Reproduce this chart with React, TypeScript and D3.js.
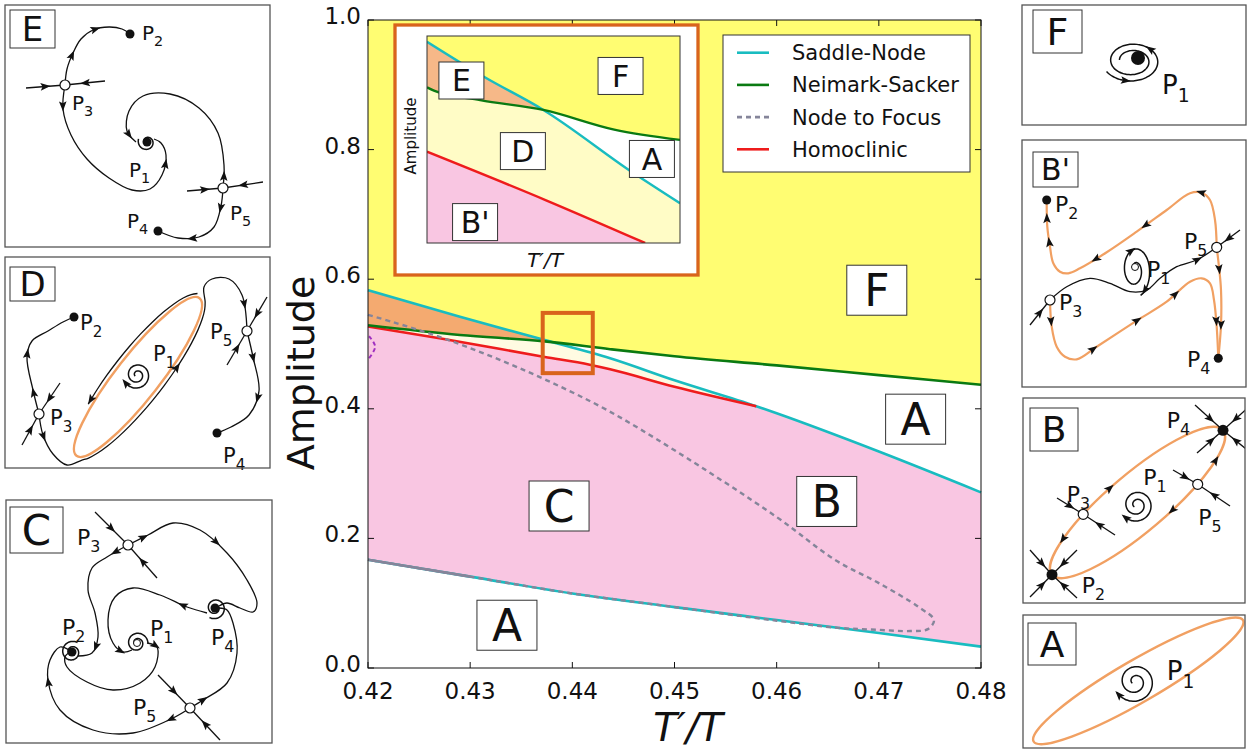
import { useEffect, useRef } from "react";
import * as d3 from "d3";

type Pt = [number, number];

// ---------- main diagram (T'/T vs Amplitude) ----------
const xTicks = [0.42, 0.43, 0.44, 0.45, 0.46, 0.47, 0.48];
const yTicks = [0.0, 0.2, 0.4, 0.6, 0.8, 1.0];

const saddleUpper: Pt[] = [
  [0.42, 0.583], [0.429, 0.542], [0.4373, 0.506], [0.4437, 0.478], [0.45, 0.444],
  [0.458, 0.404], [0.46, 0.393], [0.47, 0.334], [0.48, 0.271],
];
const saddleLower: Pt[] = [
  [0.42, 0.167], [0.43, 0.141], [0.44, 0.115], [0.45, 0.094], [0.46, 0.074], [0.47, 0.054], [0.48, 0.033],
];
const neimarkSacker: Pt[] = [
  [0.42, 0.529], [0.429, 0.514], [0.4373, 0.504], [0.4437, 0.492], [0.45, 0.481],
  [0.46, 0.467], [0.47, 0.452], [0.48, 0.437],
];
const homoclinic: Pt[] = [
  [0.42, 0.527], [0.427, 0.509], [0.4373, 0.48], [0.4417, 0.468], [0.4437, 0.461], [0.45, 0.434], [0.458, 0.404],
];
const nodeToFocus: Pt[] = [
  [0.42, 0.545], [0.4224, 0.534], [0.427, 0.511], [0.4322, 0.48], [0.4375, 0.444], [0.4434, 0.398],
  [0.45, 0.336], [0.46, 0.233], [0.4657, 0.167], [0.47, 0.131], [0.4739, 0.094], [0.4754, 0.074],
  [0.4748, 0.06], [0.4731, 0.057], [0.4698, 0.059], [0.466, 0.062], [0.46, 0.073], [0.45, 0.094],
  [0.44, 0.115], [0.43, 0.141], [0.42, 0.167],
];
const purpleArc: Pt[] = [[0.4201, 0.512], [0.4207, 0.496], [0.4201, 0.478]];
const zoomBox = { x0: 0.4371, x1: 0.442, y0: 0.455, y1: 0.548 };

const regionLabels = [
  { text: "F", x: 0.4698, y: 0.583 },
  { text: "A", x: 0.4736, y: 0.384 },
  { text: "C", x: 0.4387, y: 0.25 },
  { text: "B", x: 0.4649, y: 0.257 },
  { text: "A", x: 0.4336, y: 0.066 },
];

const legendNames = ["Saddle-Node", "Neimark-Sacker", "Node to Focus", "Homoclinic"];

// ---------- inset (schematic zoom, unit coordinates) ----------
const insetSaddle: Pt[] = [[0, 0.972], [0.225, 0.803], [0.46, 0.643], [0.816, 0.338], [1, 0.192]];
const insetNeimark: Pt[] = [[0, 0.752], [0.03, 0.735], [0.21, 0.69], [0.46, 0.643], [0.74, 0.548], [1, 0.498]];
const insetHomoclinic: Pt[] = [[0, 0.441], [0.473, 0.205], [0.862, 0]];
const insetLabels = [
  { text: "E", x: 0.136, y: 0.785 },
  { text: "F", x: 0.765, y: 0.807 },
  { text: "D", x: 0.379, y: 0.444 },
  { text: "A", x: 0.889, y: 0.406 },
  { text: "B'", x: 0.19, y: 0.101 },
];

const CYAN = "#19bcc0";
const GREEN = "#0a7a12";
const RED = "#ee1c1c";
const GRAY = "#85859a";
const YELLOW = "#fffd72";
const ORANGE = "#f4aa70";
const PALE = "#fffbe2";
const PINK = "#f9c6e2";
const BOX = "#d9641c";
const CYCLE = "#f1a062";
const INK = "#111";
const FONT = "DejaVu Sans, sans-serif";

// ---------- phase portrait sketches (panel-local px) ----------
interface Traj { pts: Pt[]; arrows?: number[]; orange?: boolean }
interface Spiral { cx: number; cy: number; rIn: number; rOut: number; turns: number; endDeg: number; sx?: number; sy?: number; inward?: boolean; arrows?: number[] }
interface Cycle { cx: number; cy: number; a: number; b: number; rot: number }
interface Panel {
  x: number; y: number; w: number; h: number;
  tag: string; tagBox: [number, number, number, number]; tagSize: number;
  cycles: Cycle[]; cycleArrows?: { t: number; dir: number }[];
  trajs: Traj[]; spirals: Spiral[];
  dots: Pt[]; open: Pt[]; small?: Pt[]; dotR?: number;
  labels: { sub: string; x: number; y: number }[]; labelSize: number;
}

function ellPt(c: Cycle, tDeg: number, da = 0, db = 0): Pt {
  const r = (c.rot * Math.PI) / 180, t = (tDeg * Math.PI) / 180;
  const ux = Math.cos(r), uy = Math.sin(r);
  const ca = (c.a + da) * Math.cos(t), sb = (c.b + db) * Math.sin(t);
  return [c.cx + ca * ux - sb * uy, c.cy + ca * uy + sb * ux];
}
function ellArc(c: Cycle, from: number, to: number, step: number, d: number): Pt[] {
  const out: Pt[] = [];
  for (let t = from; step > 0 ? t <= to : t >= to; t += step) out.push(ellPt(c, t, d, d));
  return out;
}

const dCycle: Cycle = { cx: 133, cy: 120, a: 100, b: 22, rot: -52 };
const bCycle: Cycle = { cx: 114.5, cy: 104.5, a: 112, b: 29, rot: -40.2 };
const aCycle: Cycle = { cx: 115.3, cy: 65.8, a: 121, b: 21, rot: -30.1 };

const panels: Panel[] = [
  {
    x: 5, y: 5, w: 265, h: 242, tag: "E", tagBox: [5, 5, 45, 38], tagSize: 34,
    cycles: [],
    trajs: [
      { pts: [[21, 83], [60, 80]], arrows: [0.5] },
      { pts: [[100, 76], [60, 80]], arrows: [0.5] },
      { pts: [[60, 80], [62, 64], [68, 48], [76, 34], [88, 25], [104, 22], [117, 24], [125, 29]], arrows: [0.3, 0.65] },
      { pts: [[60, 80], [58, 104], [66, 130], [82, 154], [104, 173], [127, 185], [145, 184], [157, 170], [161, 150], [156, 138], [149, 134]], arrows: [0.1, 0.86] },
      { pts: [[218, 183], [219, 160], [213, 128], [194, 103], [165, 89], [138, 91], [124, 106], [122, 126], [131, 137]], arrows: [0.06, 0.95] },
      { pts: [[182, 186], [218, 183]], arrows: [0.5] },
      { pts: [[258, 177], [218, 183]], arrows: [0.5] },
      { pts: [[218, 183], [216, 201], [209, 222], [194, 232], [173, 233], [153, 226]], arrows: [0.2, 0.65] },
    ],
    spirals: [{ cx: 142, cy: 137, rIn: 3, rOut: 9, turns: 1.1, endDeg: 200 }],
    dots: [[125, 29], [142, 137], [153, 226]], open: [[60, 80], [218, 183]],
    labels: [{ sub: "2", x: 137, y: 35 }, { sub: "3", x: 67, y: 105 }, { sub: "1", x: 124, y: 172 }, { sub: "4", x: 122, y: 223 }, { sub: "5", x: 225, y: 215 }],
    labelSize: 20,
  },
  {
    x: 5, y: 257, w: 265, h: 211, tag: "D", tagBox: [5, 10, 45, 34], tagSize: 34,
    cycles: [dCycle],
    trajs: [
      { pts: [[34, 157], [28, 133], [22, 100], [27, 84], [43, 74], [58, 65], [69, 60]], arrows: [0.18, 0.5] },
      { pts: [[34, 157], [38, 178], [48, 197], [62, 208], ...ellArc(dCycle, 165, 15, -10, 4), [199, 30], [207, 22], [224, 22], [237, 38], [242, 74]], arrows: [0.06, 0.55, 0.93] },
      { pts: ellArc(dCycle, 350, 235, -10, 4), arrows: [0.97] },
      { pts: [[242, 74], [248, 100], [254, 134], [244, 158], [226, 170], [212, 176]], arrows: [0.22, 0.55] },
      { pts: [[17, 188], [34, 157]], arrows: [0.5] },
      { pts: [[55, 126], [34, 157]], arrows: [0.5] },
      { pts: [[222, 108], [242, 74]], arrows: [0.5] },
      { pts: [[262, 40], [242, 74]], arrows: [0.5] },
    ],
    spirals: [{ cx: 132, cy: 118, rIn: 2, rOut: 14, turns: 2, endDeg: 150, arrows: [0.99] }],
    dots: [[69, 60], [212, 176]], open: [[34, 157], [242, 74]],
    labels: [{ sub: "2", x: 75, y: 73 }, { sub: "3", x: 45, y: 168 }, { sub: "5", x: 205, y: 82 }, { sub: "1", x: 148, y: 104 }, { sub: "4", x: 218, y: 206 }],
    labelSize: 21,
  },
  {
    x: 6, y: 500, w: 266, h: 243, tag: "C", tagBox: [4, 7, 53, 46], tagSize: 42,
    cycles: [],
    trajs: [
      { pts: [[122, 45], [142, 35], [167, 23], [194, 30], [221, 53], [241, 80], [251, 103], [247, 112], [234, 108], [221, 103], [213, 106]], arrows: [0.08, 0.45] },
      { pts: [[201, 113], [181, 107], [154, 95], [127, 88], [109, 97], [102, 120], [107, 143], [117, 152], [126, 150]], arrows: [0.15, 0.93] },
      { pts: [[122, 45], [101, 57], [86, 68], [82, 90], [89, 113], [92, 137], [86, 153], [72, 156]], arrows: [0.1, 0.85] },
      { pts: [[141, 143], [151, 147], [149, 167], [134, 183], [107, 190], [81, 182], [61, 167], [59, 157], [64, 152]], arrows: [0.06] },
      { pts: [[184, 208], [167, 218], [127, 233], [87, 230], [54, 210], [42, 180], [44, 160], [54, 147], [63, 150]], arrows: [0.1, 0.78] },
      { pts: [[184, 208], [197, 200], [221, 183], [231, 153], [227, 123], [221, 110], [213, 108]], arrows: [0.12] },
      { pts: [[89, 12], [122, 45]], arrows: [0.5] },
      { pts: [[151, 78], [122, 45]], arrows: [0.5] },
      { pts: [[152, 175], [184, 208]], arrows: [0.5] },
      { pts: [[214, 240], [184, 208]], arrows: [0.5] },
    ],
    spirals: [
      { cx: 131, cy: 143, rIn: 2, rOut: 11, turns: 1.7, endDeg: 0, inward: true },
      { cx: 66, cy: 152, rIn: 2, rOut: 11, turns: 1.7, endDeg: 300, inward: true },
      { cx: 209, cy: 108, rIn: 2, rOut: 11, turns: 1.7, endDeg: 120, inward: true },
    ],
    dots: [[66, 152], [209, 108]], open: [[122, 45], [184, 208]], small: [[131, 143]],
    labels: [{ sub: "3", x: 71, y: 45 }, { sub: "2", x: 56, y: 135 }, { sub: "1", x: 144, y: 136 }, { sub: "4", x: 205, y: 145 }, { sub: "5", x: 127, y: 215 }],
    labelSize: 22,
  },
  {
    x: 1022, y: 5, w: 224, h: 120, tag: "F", tagBox: [11, 5, 49, 43], tagSize: 38,
    cycles: [], trajs: [],
    spirals: [{ cx: 110, cy: 56, rIn: 9, rOut: 21, turns: 1.9, endDeg: 150, sx: 1.4, sy: 1, inward: true, arrows: [0.1, 0.36] }],
    dots: [[116, 53]], open: [], dotR: 7,
    labels: [{ sub: "1", x: 140, y: 89 }], labelSize: 26,
  },
  {
    x: 1022, y: 140, w: 224, h: 247, tag: "B'", tagBox: [11, 12, 45, 35], tagSize: 30,
    cycles: [],
    trajs: [
      { pts: [[194.7, 107.3], [193, 80], [188, 60], [179.7, 52.7], [168, 53.3], [144.7, 70], [114.7, 91.7], [84.7, 112.3], [58, 128.3], [46.3, 133.3], [38, 131.7], [31.3, 123.3], [28, 106.7], [25.3, 86.7], [24.7, 60]], arrows: [0.2, 0.42, 0.62, 0.86, 0.94], orange: true },
      { pts: [[28, 160], [29.7, 186.7], [34.7, 206.7], [43, 216.7], [54.7, 219.3], [74.7, 206.7], [114.7, 180.7], [144.7, 161.7], [168, 141.7], [179.7, 138.3], [188, 143.3], [192, 160], [194.7, 186.7], [196.3, 218.3]], arrows: [0.07, 0.3, 0.47, 0.62, 0.88], orange: true },
      { pts: [[194.7, 107.3], [197, 127], [199, 150], [199, 185], [196.3, 218.3]], arrows: [0.2, 0.7], orange: true },
      { pts: [[28, 160], [44.7, 146.7], [68, 138.3], [88, 143.3], [108, 151.7], [124.7, 150], [138, 138.3], [154.7, 126.7], [174.7, 120], [194.7, 107.3]], arrows: [0.88] },
      { pts: [[8, 185], [28, 160]], arrows: [0.5] },
      { pts: [[218, 90], [194.7, 107.3]], arrows: [0.5] },
    ],
    spirals: [{ cx: 113, cy: 130, rIn: 5, rOut: 27, turns: 1.6, endDeg: 70, sx: 0.6, sy: 1, arrows: [0.55, 0.95] }],
    dots: [[24.7, 60], [196.3, 218.3]], open: [[28, 160], [194.7, 107.3]], small: [[113, 127]],
    labels: [{ sub: "2", x: 33, y: 72 }, { sub: "3", x: 37, y: 170 }, { sub: "5", x: 162, y: 109 }, { sub: "1", x: 125, y: 137 }, { sub: "4", x: 165, y: 227 }],
    labelSize: 22,
  },
  {
    x: 1023, y: 398, w: 222, h: 205, tag: "B", tagBox: [7, 10, 48, 43], tagSize: 36,
    cycles: [bCycle],
    cycleArrows: [{ t: 224, dir: -1 }, { t: 264, dir: 1 }, { t: 39, dir: -1 }, { t: 79, dir: 1 }],
    trajs: [
      { pts: [[7, 152], [29, 176.7]], arrows: [0.55] },
      { pts: [[54, 152], [29, 176.7]], arrows: [0.55] },
      { pts: [[7, 199], [29, 176.7]], arrows: [0.55] },
      { pts: [[54, 200], [29, 176.7]], arrows: [0.55] },
      { pts: [[172, 7], [200, 32.3]], arrows: [0.55] },
      { pts: [[228, 7], [200, 32.3]], arrows: [0.55] },
      { pts: [[174, 55], [200, 32.3]], arrows: [0.55] },
      { pts: [[228, 55], [200, 32.3]], arrows: [0.55] },
      { pts: [[34, 100], [60.2, 116.3]], arrows: [0.5] },
      { pts: [[92, 137], [60.2, 116.3]], arrows: [0.5] },
      { pts: [[150, 72], [174.7, 86.3]], arrows: [0.5] },
      { pts: [[207, 108], [174.7, 86.3]], arrows: [0.5] },
    ],
    spirals: [{ cx: 113.7, cy: 107, rIn: 3, rOut: 17, turns: 2, endDeg: 140, arrows: [0.98] }],
    dots: [[29, 176.7], [200, 32.3]], open: [[60.2, 116.3], [174.7, 86.3]], dotR: 5.5,
    labels: [{ sub: "2", x: 58.7, y: 194.7 }, { sub: "4", x: 143.7, y: 30.3 }, { sub: "3", x: 43.7, y: 103.7 }, { sub: "5", x: 175.3, y: 127 }, { sub: "1", x: 120.3, y: 87 }],
    labelSize: 22,
  },
  {
    x: 1023, y: 615, w: 222, h: 133, tag: "A", tagBox: [5, 8, 48, 42], tagSize: 36,
    cycles: [aCycle], trajs: [],
    spirals: [{ cx: 112, cy: 66.7, rIn: 3, rOut: 21, turns: 2, endDeg: 150, arrows: [0.98] }],
    dots: [], open: [],
    labels: [{ sub: "1", x: 143.7, y: 65 }], labelSize: 26,
  },
];

function spiralPts(s: Spiral): Pt[] {
  const pts: Pt[] = [];
  const n = 120, sx = s.sx ?? 1, sy = s.sy ?? 1;
  for (let i = 0; i <= n; i++) {
    const f = i / n;
    const th = (s.endDeg * Math.PI) / 180 - (1 - f) * s.turns * 2 * Math.PI;
    const r = s.rIn + (s.rOut - s.rIn) * f;
    pts.push([s.cx + r * Math.cos(th) * sx, s.cy + r * Math.sin(th) * sy]);
  }
  return s.inward ? pts.reverse() : pts;
}

function arrowHead(g: any, x: number, y: number, ang: number, color = INK) {
  g.append("path")
    .attr("d", "M5,0L-5,-3.8L-3,0L-5,3.8Z")
    .attr("transform", `translate(${x},${y}) rotate(${ang})`)
    .attr("fill", color);
}

function addArrows(g: any, path: any, ts: number[]) {
  const node = path.node() as SVGPathElement;
  const L = node.getTotalLength();
  ts.forEach((t) => {
    const l = Math.max(1, Math.min(L - 1, t * L));
    const a = node.getPointAtLength(l - 1), b = node.getPointAtLength(l + 1), p = node.getPointAtLength(l);
    arrowHead(g, p.x, p.y, (Math.atan2(b.y - a.y, b.x - a.x) * 180) / Math.PI);
  });
}

function letterBox(g: any, cx: number, cy: number, w: number, h: number, text: string, size: number) {
  g.append("rect").attr("x", cx - w / 2).attr("y", cy - h / 2).attr("width", w).attr("height", h)
    .attr("fill", "#fff").attr("stroke", "#333").attr("stroke-width", 1);
  g.append("text").attr("x", cx).attr("y", cy + size * 0.36).attr("text-anchor", "middle")
    .attr("font-size", size).attr("fill", INK).text(text);
}

function pLabel(g: any, x: number, y: number, sub: string, size: number) {
  const t = g.append("text").attr("x", x).attr("y", y).attr("font-size", size).attr("fill", INK);
  t.append("tspan").text("P");
  t.append("tspan").attr("font-size", size * 0.72).attr("dy", size * 0.32).text(sub);
}

function drawMain(svg: any, defs: any) {
  const x = d3.scaleLinear().domain([0.42, 0.48]).range([368, 981]);
  const y = d3.scaleLinear().domain([0, 1]).range([668, 20]);
  const curve = d3.curveMonotoneX;
  const above = d3.area<Pt>().curve(curve).x((d) => x(d[0])).y0((d) => y(d[1])).y1(y(1));
  const below = d3.area<Pt>().curve(curve).x((d) => x(d[0])).y0(y(0)).y1((d) => y(d[1]));
  const line = d3.line<Pt>().curve(curve).x((d) => x(d[0])).y((d) => y(d[1]));

  const clip = (id: string, d: string | null) => defs.append("clipPath").attr("id", id).append("path").attr("d", d);
  clip("m-above-ns", above(neimarkSacker));
  clip("m-below-ns", below(neimarkSacker));
  clip("m-below-sn", below(saddleUpper));
  clip("m-above-low", above(saddleLower));

  const g = svg.append("g");
  // regions
  g.append("g").attr("clip-path", "url(#m-above-ns)").append("path").attr("d", above(saddleUpper)).attr("fill", YELLOW);
  g.append("g").attr("clip-path", "url(#m-above-ns)").append("path").attr("d", below(saddleUpper)).attr("fill", ORANGE);
  g.append("g").attr("clip-path", "url(#m-below-ns)").append("g").attr("clip-path", "url(#m-below-sn)")
    .append("path").attr("d", above(homoclinic)).attr("fill", PALE);
  const lastX = homoclinic[homoclinic.length - 1][0];
  const pinkTop = [...homoclinic, ...saddleUpper.filter((d) => d[0] > lastX)];
  g.append("g").attr("clip-path", "url(#m-above-low)").append("path").attr("d", below(pinkTop)).attr("fill", PINK);

  // curves
  const stroke = (pts: Pt[], color: string, w: number) =>
    g.append("path").attr("d", line(pts)).attr("fill", "none").attr("stroke", color).attr("stroke-width", w);
  stroke(saddleLower, CYAN, 2.6);
  stroke(saddleLower.filter((d) => d[0] <= 0.43), GRAY, 2.6);
  stroke(saddleUpper, CYAN, 2.6);
  stroke(homoclinic, RED, 2.6);
  stroke(neimarkSacker, GREEN, 2.6);
  g.append("path")
    .attr("d", d3.line<Pt>().curve(d3.curveCatmullRom.alpha(0.5)).x((d) => x(d[0])).y((d) => y(d[1]))(nodeToFocus))
    .attr("fill", "none").attr("stroke", GRAY).attr("stroke-width", 2.4).attr("stroke-dasharray", "5,4");
  g.append("path")
    .attr("d", d3.line<Pt>().curve(d3.curveCatmullRom).x((d) => x(d[0])).y((d) => y(d[1]))(purpleArc))
    .attr("fill", "none").attr("stroke", "#a030c0").attr("stroke-width", 2).attr("stroke-dasharray", "4,3");

  // zoom window
  g.append("rect").attr("x", x(zoomBox.x0)).attr("y", y(zoomBox.y1))
    .attr("width", x(zoomBox.x1) - x(zoomBox.x0)).attr("height", y(zoomBox.y0) - y(zoomBox.y1))
    .attr("fill", "none").attr("stroke", BOX).attr("stroke-width", 4);

  // frame + ticks
  g.append("rect").attr("x", 368).attr("y", 20).attr("width", 613).attr("height", 648)
    .attr("fill", "none").attr("stroke", INK).attr("stroke-width", 1);
  xTicks.forEach((v) => {
    g.append("line").attr("x1", x(v)).attr("x2", x(v)).attr("y1", y(0)).attr("y2", y(0) - 6).attr("stroke", INK);
    g.append("line").attr("x1", x(v)).attr("x2", x(v)).attr("y1", y(1)).attr("y2", y(1) + 6).attr("stroke", INK);
    g.append("text").attr("x", x(v)).attr("y", 699).attr("text-anchor", "middle").attr("font-size", 23)
      .attr("fill", INK).text(d3.format(".2f")(v));
  });
  yTicks.forEach((v) => {
    g.append("line").attr("x1", x(0.42)).attr("x2", x(0.42) + 6).attr("y1", y(v)).attr("y2", y(v)).attr("stroke", INK);
    g.append("line").attr("x1", x(0.48)).attr("x2", x(0.48) - 6).attr("y1", y(v)).attr("y2", y(v)).attr("stroke", INK);
    g.append("text").attr("x", 361).attr("y", y(v) + 4).attr("text-anchor", "end").attr("font-size", 23)
      .attr("fill", INK).text(d3.format(".1f")(v));
  });
  g.append("text").attr("transform", "translate(314,373) rotate(-90)").attr("text-anchor", "middle")
    .attr("font-size", 38).attr("fill", INK).text("Amplitude");
  g.append("text").attr("x", 688).attr("y", 741).attr("text-anchor", "middle").attr("font-size", 39)
    .attr("font-style", "italic").attr("fill", INK).text("T′/T");

  regionLabels.forEach((r) => letterBox(g, x(r.x), y(r.y), 60, 50, r.text, 44));

  // legend
  const lg = g.append("g");
  lg.append("rect").attr("x", 723).attr("y", 35).attr("width", 247).attr("height", 137)
    .attr("fill", "#fff").attr("stroke", "#333").attr("stroke-width", 1);
  const colors = [CYAN, GREEN, GRAY, RED];
  legendNames.forEach((n, i) => {
    const cy = 52.7 + i * 32.2;
    lg.append("line").attr("x1", 737).attr("x2", 769).attr("y1", cy).attr("y2", cy)
      .attr("stroke", colors[i]).attr("stroke-width", 2.6).attr("stroke-dasharray", i === 2 ? "5,4" : null);
    lg.append("text").attr("x", 792).attr("y", cy + 7.5).attr("font-size", 21).attr("fill", INK).text(n);
  });
}

function drawInset(svg: any, defs: any) {
  const ix = d3.scaleLinear().domain([0, 1]).range([427, 680]);
  const iy = d3.scaleLinear().domain([0, 1]).range([243, 36]);
  const curve = d3.curveMonotoneX;
  const above = d3.area<Pt>().curve(curve).x((d) => ix(d[0])).y0((d) => iy(d[1])).y1(iy(1));
  const below = d3.area<Pt>().curve(curve).x((d) => ix(d[0])).y0(iy(0)).y1((d) => iy(d[1]));
  const line = d3.line<Pt>().curve(curve).x((d) => ix(d[0])).y((d) => iy(d[1]));

  const g = svg.append("g");
  g.append("rect").attr("x", 395).attr("y", 25).attr("width", 303).attr("height", 250)
    .attr("fill", "#fff").attr("stroke", BOX).attr("stroke-width", 3.3);

  defs.append("clipPath").attr("id", "i-frame").append("rect").attr("x", 427).attr("y", 36).attr("width", 253).attr("height", 207);
  defs.append("clipPath").attr("id", "i-above-ns").append("path").attr("d", above(insetNeimark));
  defs.append("clipPath").attr("id", "i-below-ns").append("path").attr("d", below(insetNeimark));
  defs.append("clipPath").attr("id", "i-below-sn").append("path").attr("d", below(insetSaddle));

  const p = g.append("g").attr("clip-path", "url(#i-frame)");
  p.append("g").attr("clip-path", "url(#i-above-ns)").append("path").attr("d", above(insetSaddle)).attr("fill", YELLOW);
  p.append("g").attr("clip-path", "url(#i-above-ns)").append("path").attr("d", below(insetSaddle)).attr("fill", "#f6b888");
  p.append("g").attr("clip-path", "url(#i-below-ns)").append("g").attr("clip-path", "url(#i-below-sn)")
    .append("rect").attr("x", 427).attr("y", 36).attr("width", 253).attr("height", 207).attr("fill", "#fffcc6");
  p.append("path").attr("d", below(insetHomoclinic)).attr("fill", PINK);
  p.append("path").attr("d", line(insetSaddle)).attr("fill", "none").attr("stroke", CYAN).attr("stroke-width", 2.4);
  p.append("path").attr("d", line(insetNeimark)).attr("fill", "none").attr("stroke", GREEN).attr("stroke-width", 2.4);
  p.append("path").attr("d", line(insetHomoclinic)).attr("fill", "none").attr("stroke", RED).attr("stroke-width", 2.4);

  g.append("rect").attr("x", 427).attr("y", 36).attr("width", 253).attr("height", 207)
    .attr("fill", "none").attr("stroke", "#333").attr("stroke-width", 1);
  insetLabels.forEach((l) => letterBox(g, ix(l.x), iy(l.y), 45, 37, l.text, 30));
  g.append("text").attr("transform", "translate(416,136) rotate(-90)").attr("text-anchor", "middle")
    .attr("font-size", 15).attr("fill", INK).text("Amplitude");
  g.append("text").attr("x", 545).attr("y", 267).attr("text-anchor", "middle").attr("font-size", 20)
    .attr("font-style", "italic").attr("fill", INK).text("T′/T");
}

function drawPanel(svg: any, defs: any, p: Panel, idx: number) {
  const g = svg.append("g").attr("transform", `translate(${p.x},${p.y})`);
  const cid = `panel-clip-${idx}`;
  defs.append("clipPath").attr("id", cid).append("rect").attr("width", p.w).attr("height", p.h);
  const inner = g.append("g").attr("clip-path", `url(#${cid})`);
  const line = d3.line<Pt>().curve(d3.curveCatmullRom.alpha(0.5));

  p.cycles.forEach((c) => {
    inner.append("ellipse").attr("cx", c.cx).attr("cy", c.cy).attr("rx", c.a).attr("ry", c.b)
      .attr("transform", `rotate(${c.rot},${c.cx},${c.cy})`)
      .attr("fill", "none").attr("stroke", CYCLE).attr("stroke-width", 2.4);
  });
  (p.cycleArrows ?? []).forEach((ca) => {
    const c = p.cycles[0];
    const a = ellPt(c, ca.t), b = ellPt(c, ca.t + ca.dir);
    arrowHead(inner, a[0], a[1], (Math.atan2(b[1] - a[1], b[0] - a[0]) * 180) / Math.PI);
  });
  p.trajs.forEach((t) => {
    const path = inner.append("path").attr("d", line(t.pts)).attr("fill", "none")
      .attr("stroke", t.orange ? CYCLE : INK).attr("stroke-width", t.orange ? 2.2 : 1.3);
    addArrows(inner, path, t.arrows ?? []);
  });
  p.spirals.forEach((s) => {
    const path = inner.append("path").attr("d", line(spiralPts(s))).attr("fill", "none")
      .attr("stroke", INK).attr("stroke-width", 1.5);
    addArrows(inner, path, s.arrows ?? []);
  });
  p.dots.forEach((d) => inner.append("circle").attr("cx", d[0]).attr("cy", d[1]).attr("r", p.dotR ?? 4.5).attr("fill", INK));
  p.open.forEach((d) => inner.append("circle").attr("cx", d[0]).attr("cy", d[1]).attr("r", 5)
    .attr("fill", "#fff").attr("stroke", INK).attr("stroke-width", 1.2));
  (p.small ?? []).forEach((d) => inner.append("circle").attr("cx", d[0]).attr("cy", d[1]).attr("r", 3.5)
    .attr("fill", "#fff").attr("stroke", INK).attr("stroke-width", 1));
  p.labels.forEach((l) => pLabel(g, l.x, l.y, l.sub, p.labelSize));

  g.append("rect").attr("width", p.w).attr("height", p.h).attr("fill", "none").attr("stroke", "#555").attr("stroke-width", 1.3);
  const [bx, by, bw, bh] = p.tagBox;
  letterBox(g, bx + bw / 2, by + bh / 2, bw, bh, p.tag, p.tagSize);
}

export default function App() {
  const ref = useRef<SVGSVGElement>(null);

  useEffect(() => {
    const svg = d3.select(ref.current);
    svg.selectAll("*").remove();
    const defs = svg.append("defs");
    drawMain(svg, defs);
    drawInset(svg, defs);
    panels.forEach((p, i) => drawPanel(svg, defs, p, i));
  }, []);

  return (
    <div style={{ position: "absolute", left: 0, top: 0 }}>
      <svg ref={ref} width={1248} height={751} style={{ display: "block", background: "#fff" }} fontFamily={FONT} />
    </div>
  );
}
